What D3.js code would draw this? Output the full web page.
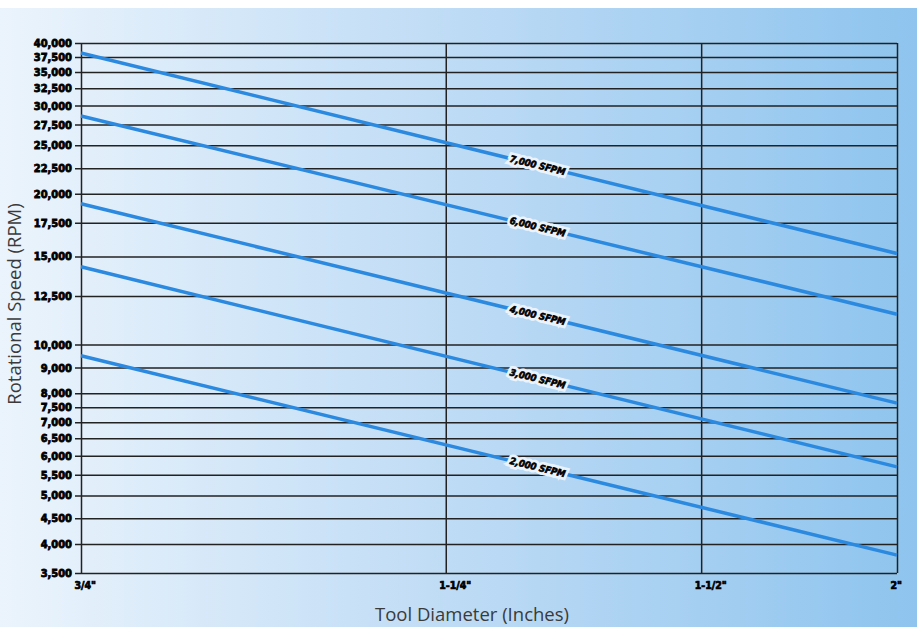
<!DOCTYPE html>
<html>
<head>
<meta charset="utf-8">
<script src="https://cdn.jsdelivr.net/npm/d3@7"></script>
<style>
  body { margin: 0; background: #fff; }
  svg { display: block; }
</style>
</head>
<body>
<div id="chart"></div>
<script>
// Data

var diameters = [0.75, 1.25, 1.5, 2];
var diameterLabels = ['3/4"', '1-1/4"', '1-1/2"', '2"'];

var rpmTicks = [40000, 37500, 35000, 32500, 30000, 27500, 25000, 22500, 20000,
                17500, 15000, 12500, 10000, 9000, 8000, 7500, 7000, 6500,
                6000, 5500, 5000, 4500, 4000, 3500];

var seriesNames = ["7,000 SFPM", "6,000 SFPM", "4,000 SFPM", "3,000 SFPM", "2,000 SFPM"];
var rpmAtThreeQuarter = [38200, 28600, 19100, 14300, 9500];
var rpmAtTwoInch = [15200, 11500, 7640, 5700, 3800];

// Set up the chart area

var svgWidth = 917;
var svgHeight = 627;
var margin = { top: 43, right: 20, bottom: 54, left: 81 };

var width = svgWidth - margin.left - margin.right;
var height = svgHeight - margin.top - margin.bottom;

var svg = d3.select("#chart")
  .append("svg")
  .attr("width", svgWidth)
  .attr("height", svgHeight);

// background gradient
var defs = svg.append("defs");
var grad = defs.append("linearGradient")
  .attr("id", "bg")
  .attr("gradientUnits", "userSpaceOnUse")
  .attr("x1", 0).attr("y1", 0)
  .attr("x2", svgWidth).attr("y2", 0);
grad.append("stop").attr("offset", "0%").attr("stop-color", "#ebf4fc");
grad.append("stop").attr("offset", "50%").attr("stop-color", "#bedbf5");
grad.append("stop").attr("offset", "100%").attr("stop-color", "#8ec4ee");

svg.append("rect")
  .attr("x", 0)
  .attr("y", 8)
  .attr("width", svgWidth)
  .attr("height", svgHeight - 8)
  .attr("fill", "url(#bg)");

var chartGroup = svg.append("g")
  .attr("transform", `translate(${margin.left}, ${margin.top})`);

// Scales (x axis spacing is uneven in the original)
var xScale = d3.scaleLinear()
  .domain(diameters)
  .range([0, width * 0.447, width * 0.76, width]);

var yScale = d3.scaleLog()
  .domain([3500, 40000])
  .range([height, 0]);

// Horizontal grid + left axis
var leftAxis = d3.axisLeft(yScale)
  .tickValues(rpmTicks)
  .tickFormat(d3.format(","))
  .tickSize(6)
  .tickPadding(3);

var yAxisG = chartGroup.append("g").call(leftAxis);
yAxisG.select(".domain").remove();
yAxisG.selectAll(".tick line")
  .attr("x2", width)
  .attr("x1", -6)
  .attr("stroke", "#222")
  .attr("stroke-width", 1.5);
yAxisG.selectAll(".tick text")
  .attr("font-family", "DejaVu Sans Condensed, DejaVu Sans, sans-serif")
  .attr("font-weight", "bold")
  .attr("font-size", 11)
  .attr("fill", "#000")
  .attr("stroke", "#000")
  .attr("stroke-width", 0.8);

// Vertical grid + bottom labels
var bottomAxis = d3.axisBottom(xScale)
  .tickValues(diameters)
  .tickFormat(function(d, i) { return diameterLabels[i]; })
  .tickSize(0)
  .tickPadding(9);

var xAxisG = chartGroup.append("g")
  .attr("transform", `translate(0, ${height})`)
  .call(bottomAxis);
xAxisG.select(".domain").remove();
xAxisG.selectAll(".tick line")
  .attr("y2", -height)
  .attr("stroke", "#222")
  .attr("stroke-width", 1.5);
xAxisG.selectAll(".tick text")
  .attr("text-anchor", "start")
  .attr("dx", -7)
  .attr("font-family", "DejaVu Sans Condensed, DejaVu Sans, sans-serif")
  .attr("font-weight", "bold")
  .attr("font-size", 10.5)
  .attr("fill", "#000")
  .attr("stroke", "#000")
  .attr("stroke-width", 0.7);

// SFPM lines
var lineData = seriesNames.map(function(name, i) {
  return {
    name: name,
    points: [
      { d: diameters[0], rpm: rpmAtThreeQuarter[i] },
      { d: diameters[diameters.length - 1], rpm: rpmAtTwoInch[i] }
    ]
  };
});

var line = d3.line()
  .x(function(p) { return xScale(p.d); })
  .y(function(p) { return yScale(p.rpm); });

chartGroup.selectAll(".sfpm")
  .data(lineData)
  .enter()
  .append("path")
  .attr("class", "sfpm")
  .attr("d", function(s) { return line(s.points); })
  .attr("fill", "none")
  .attr("stroke", "#2b8ae0")
  .attr("stroke-width", 3.5);

// Labels sitting on each line
var labelAt = 1.34;
var labels = chartGroup.selectAll(".sfpm-label")
  .data(lineData)
  .enter()
  .append("g")
  .attr("class", "sfpm-label")
  .attr("transform", function(s) {
    var p0 = s.points[0], p1 = s.points[1];
    var x0 = xScale(p0.d), y0 = yScale(p0.rpm);
    var x1 = xScale(p1.d), y1 = yScale(p1.rpm);
    var lx = xScale(labelAt);
    var ly = y0 + (y1 - y0) * (lx - x0) / (x1 - x0);
    var ang = Math.atan2(y1 - y0, x1 - x0) * 180 / Math.PI;
    return `translate(${lx}, ${ly}) rotate(${ang})`;
  });

// background knock-out so the label cuts the line
labels.append("text")
  .attr("text-anchor", "middle")
  .attr("dy", "0.35em")
  .attr("font-family", "DejaVu Sans Condensed, DejaVu Sans, sans-serif")
  .attr("font-weight", "bold")
  .attr("font-style", "italic")
  .attr("font-size", 9.5)
  .attr("fill", "none")
  .attr("stroke", "url(#bg)")
  .attr("stroke-width", 6)
  .text(function(s) { return s.name; });

labels.append("text")
  .attr("text-anchor", "middle")
  .attr("dy", "0.35em")
  .attr("font-family", "DejaVu Sans Condensed, DejaVu Sans, sans-serif")
  .attr("font-weight", "bold")
  .attr("font-style", "italic")
  .attr("font-size", 9.5)
  .attr("fill", "#000")
  .attr("stroke", "#000")
  .attr("stroke-width", 0.6)
  .text(function(s) { return s.name; });

// Axis titles
svg.append("text")
  .attr("transform", "translate(21, 304) rotate(-90)")
  .attr("text-anchor", "middle")
  .attr("font-family", "Open Sans, sans-serif")
  .attr("font-size", 18.5)
  .attr("fill", "#3a3a3a")
  .text("Rotational Speed (RPM)");

svg.append("text")
  .attr("x", 472)
  .attr("y", 621)
  .attr("text-anchor", "middle")
  .attr("font-family", "Open Sans, sans-serif")
  .attr("font-size", 18.5)
  .attr("fill", "#3a3a3a")
  .text("Tool Diameter (Inches)");
</script>
</body>
</html>
